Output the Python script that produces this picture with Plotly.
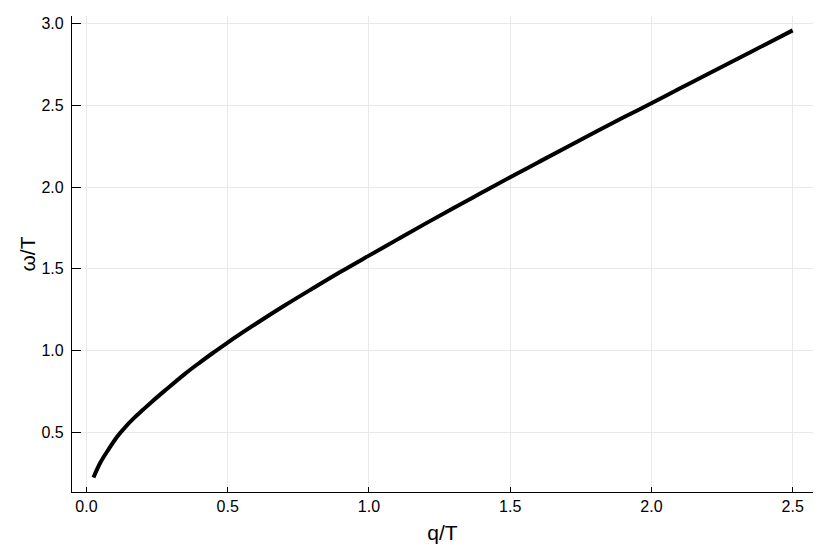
import plotly.graph_objects as go

# dispersion
q_over_T = [0.025, 0.05, 0.08, 0.11, 0.14, 0.17, 0.2, 0.23,
            0.28, 0.35, 0.4, 0.45, 0.5, 0.6, 0.7, 0.8, 0.9,
            1.0, 1.1, 1.2, 1.3, 1.4, 1.5, 1.6, 1.7, 1.8, 1.9,
            2.0, 2.1, 2.2, 2.3, 2.4, 2.5]
omega_over_T = [0.222, 0.315, 0.398, 0.474, 0.535, 0.588, 0.636, 0.683,
                0.757, 0.858, 0.924, 0.987, 1.048, 1.163, 1.273, 1.378, 1.481,
                1.58, 1.678, 1.776, 1.872, 1.966, 2.06, 2.152, 2.244, 2.335, 2.425,
                2.513, 2.603, 2.692, 2.781, 2.870, 2.959]

x_ticks = [0.0, 0.5, 1.0, 1.5, 2.0, 2.5]
y_ticks = [0.5, 1.0, 1.5, 2.0, 2.5, 3.0]

font_family = "Liberation Sans"

fig = go.Figure()
fig.add_trace(go.Scatter(
    x=q_over_T, y=omega_over_T,
    mode="lines",
    line=dict(color="black", width=4, shape="spline", smoothing=1.0),
    showlegend=False,
    hoverinfo="x+y",
))

axis_common = dict(
    showline=True, linecolor="black", linewidth=1.2, mirror=False,
    showgrid=True, gridcolor="#e9e9e9", gridwidth=1,
    zeroline=False, automargin=False,
    ticks="inside", tickcolor="black", tickwidth=1,
    tickfont=dict(family=font_family, size=16, color="black"),
)

# the page body adds an 8px offset, so the figure is sized a bit smaller
fig.update_layout(
    width=822, height=546,
    margin=dict(l=64, r=17, t=8, b=62),
    paper_bgcolor="white", plot_bgcolor="white",
    font=dict(family=font_family, color="black"),
    xaxis=dict(
        range=[-0.051, 2.572],
        tickvals=x_ticks, ticktext=[f"{v:.1f}" for v in x_ticks],
        ticklen=5,
        title=dict(text="q/T", font=dict(family=font_family, size=21), standoff=11),
        **axis_common,
    ),
    yaxis=dict(
        range=[0.133, 3.047],
        tickvals=y_ticks, ticktext=[f"{v:.1f}" for v in y_ticks],
        ticklen=9, ticklabelstandoff=4,
        title=dict(text="ω/T", font=dict(family=font_family, size=21), standoff=0),
        **axis_common,
    ),
)

fig.write_html("out.html")
